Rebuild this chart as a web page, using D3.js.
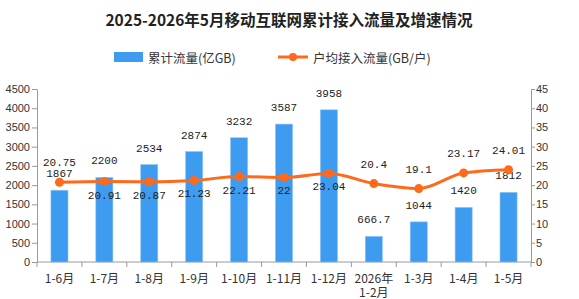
<!DOCTYPE html>
<html>
<head>
<meta charset="utf-8">
<script src="https://cdn.jsdelivr.net/npm/d3@7"></script>
<style>
    body { margin: 0; background: #fff; }
    svg text { font-family: "Noto Sans CJK SC", sans-serif; }
</style>
</head>
<body>
<div id="chart"></div>
<script>
let months = ["1-6月", "1-7月", "1-8月", "1-9月", "1-10月", "1-11月", "1-12月", "2026年\n1-2月", "1-3月", "1-4月", "1-5月"];
let totalFlow = [1867, 2200, 2534, 2874, 3232, 3587, 3958, 666.7, 1044, 1420, 1812];
let perUser = [20.75, 20.91, 20.87, 21.23, 22.21, 22, 23.04, 20.4, 19.1, 23.17, 24.01];
let perUserLabelPos = ["top", "bottom", "bottom", "bottom", "bottom", "bottom", "bottom", "top", "top", "top", "top"];
let leftTicks = [0, 500, 1000, 1500, 2000, 2500, 3000, 3500, 4000, 4500];
let rightTicks = [0, 5, 10, 15, 20, 25, 30, 35, 40, 45];

function renderChart() {
    let W = 579, H = 299;
    let margin = {top: 89, right: 48, bottom: 37, left: 37},
        width = W - margin.left - margin.right,
        height = H - margin.top - margin.bottom;

    let barColor = "#3d9bf0", lineColor = "#ff6a1a", axisColor = "#9a9a9a";
    let monoFont = "'Liberation Mono', 'DejaVu Sans Mono', monospace";

    let svg = d3.select("#chart")
        .append("svg")
        .attr("width", W)
        .attr("height", H);

    // title
    svg.append("text")
        .attr("x", 289)
        .attr("y", 19)
        .attr("text-anchor", "middle")
        .attr("dominant-baseline", "central")
        .style("font-size", "15.5px")
        .style("font-weight", "bold")
        .style("fill", "#222")
        .text("2025-2026年5月移动互联网累计接入流量及增速情况");

    // legend
    let legend = svg.append("g").attr("transform", "translate(0, 57)");
    legend.append("rect")
        .attr("x", 114).attr("y", -5)
        .attr("width", 29).attr("height", 10)
        .attr("fill", barColor);
    legend.append("text")
        .attr("x", 148).attr("y", 0)
        .attr("dominant-baseline", "central")
        .style("font-size", "12.5px")
        .style("fill", "#333")
        .text("累计流量(亿GB)");
    legend.append("line")
        .attr("x1", 278).attr("x2", 308)
        .attr("y1", 0).attr("y2", 0)
        .attr("stroke", lineColor)
        .attr("stroke-width", 3);
    legend.append("circle")
        .attr("cx", 293).attr("cy", 0).attr("r", 4)
        .attr("fill", lineColor);
    legend.append("text")
        .attr("x", 313).attr("y", 0)
        .attr("dominant-baseline", "central")
        .style("font-size", "12.5px")
        .style("fill", "#333")
        .text("户均接入流量(GB/户)");

    let g = svg.append("g")
        .attr("transform", `translate(${margin.left}, ${margin.top})`);

    // scales
    let x = d3.scaleBand()
        .domain(months)
        .range([0, width])
        .paddingInner(0.62)
        .paddingOuter(0.31);

    let y = d3.scaleLinear()
        .domain([0, 4500])
        .range([height, 0]);

    let y2 = d3.scaleLinear()
        .domain([0, 45])
        .range([height, 0]);

    // left axis
    let leftAxis = g.append("g")
        .call(d3.axisLeft(y).tickValues(leftTicks).tickFormat(d3.format("d"))
            .tickSize(5).tickPadding(2).tickSizeOuter(0));
    // right axis
    let rightAxis = g.append("g")
        .attr("transform", `translate(${width}, 0)`)
        .call(d3.axisRight(y2).tickValues(rightTicks).tickFormat(d3.format("d"))
            .tickSize(4).tickPadding(1).tickSizeOuter(0));

    [leftAxis, rightAxis].forEach(a => {
        a.selectAll("path, line").attr("stroke", axisColor);
        a.selectAll("text")
            .style("font-size", "11px")
            .style("font-family", "'Liberation Sans', Arial, sans-serif")
            .style("fill", "#333");
    });

    // bottom axis line + category boundary ticks
    let bottom = g.append("g").attr("transform", `translate(0, ${height})`);
    bottom.append("line")
        .attr("x1", 0).attr("x2", width)
        .attr("stroke", axisColor);
    bottom.selectAll(".bound")
        .data(d3.range(months.length + 1))
        .enter()
        .append("line")
        .attr("x1", d => d * x.step())
        .attr("x2", d => d * x.step())
        .attr("y1", 0).attr("y2", 5)
        .attr("stroke", axisColor);

    let xLabels = bottom.selectAll(".xlabel")
        .data(months)
        .enter()
        .append("text")
        .attr("text-anchor", "middle")
        .attr("transform", d => `translate(${x(d) + x.bandwidth() / 2}, 15)`)
        .style("font-size", "12px")
        .style("fill", "#333");
    xLabels.selectAll("tspan")
        .data(d => d.split("\n"))
        .enter()
        .append("tspan")
        .attr("x", 0)
        .attr("dy", (d, i) => i === 0 ? 0 : 14)
        .attr("dominant-baseline", "central")
        .text(d => d);

    // bars
    g.selectAll(".bar")
        .data(totalFlow)
        .enter()
        .append("rect")
        .attr("x", (d, i) => x(months[i]))
        .attr("y", d => y(d))
        .attr("width", x.bandwidth())
        .attr("height", d => height - y(d))
        .attr("fill", barColor)
        .attr("stroke", "#8cc4f7")
        .attr("stroke-width", 0.6);

    g.selectAll(".barlabel")
        .data(totalFlow)
        .enter()
        .append("text")
        .attr("x", (d, i) => x(months[i]) + x.bandwidth() / 2)
        .attr("y", d => y(d) - 16)
        .attr("text-anchor", "middle")
        .attr("dominant-baseline", "central")
        .style("font-family", monoFont)
        .style("font-size", "11px")
        .style("fill", "#222")
        .text(d => d);

    // line
    let line = d3.line()
        .x((d, i) => x(months[i]) + x.bandwidth() / 2)
        .y(d => y2(d))
        .curve(d3.curveMonotoneX);

    g.append("path")
        .datum(perUser)
        .attr("d", line)
        .attr("fill", "none")
        .attr("stroke", lineColor)
        .attr("stroke-width", 3);

    g.selectAll(".dot")
        .data(perUser)
        .enter()
        .append("circle")
        .attr("cx", (d, i) => x(months[i]) + x.bandwidth() / 2)
        .attr("cy", d => y2(d))
        .attr("r", 4.5)
        .attr("fill", lineColor);

    g.selectAll(".linelabel")
        .data(perUser)
        .enter()
        .append("text")
        .attr("x", (d, i) => x(months[i]) + x.bandwidth() / 2)
        .attr("y", (d, i) => perUserLabelPos[i] === "top" ? y2(d) - 19 : y2(d) + 14)
        .attr("text-anchor", "middle")
        .attr("dominant-baseline", "central")
        .style("font-family", monoFont)
        .style("font-size", "11px")
        .style("fill", "#222")
        .text(d => d);
}

renderChart();
</script>
</body>
</html>
